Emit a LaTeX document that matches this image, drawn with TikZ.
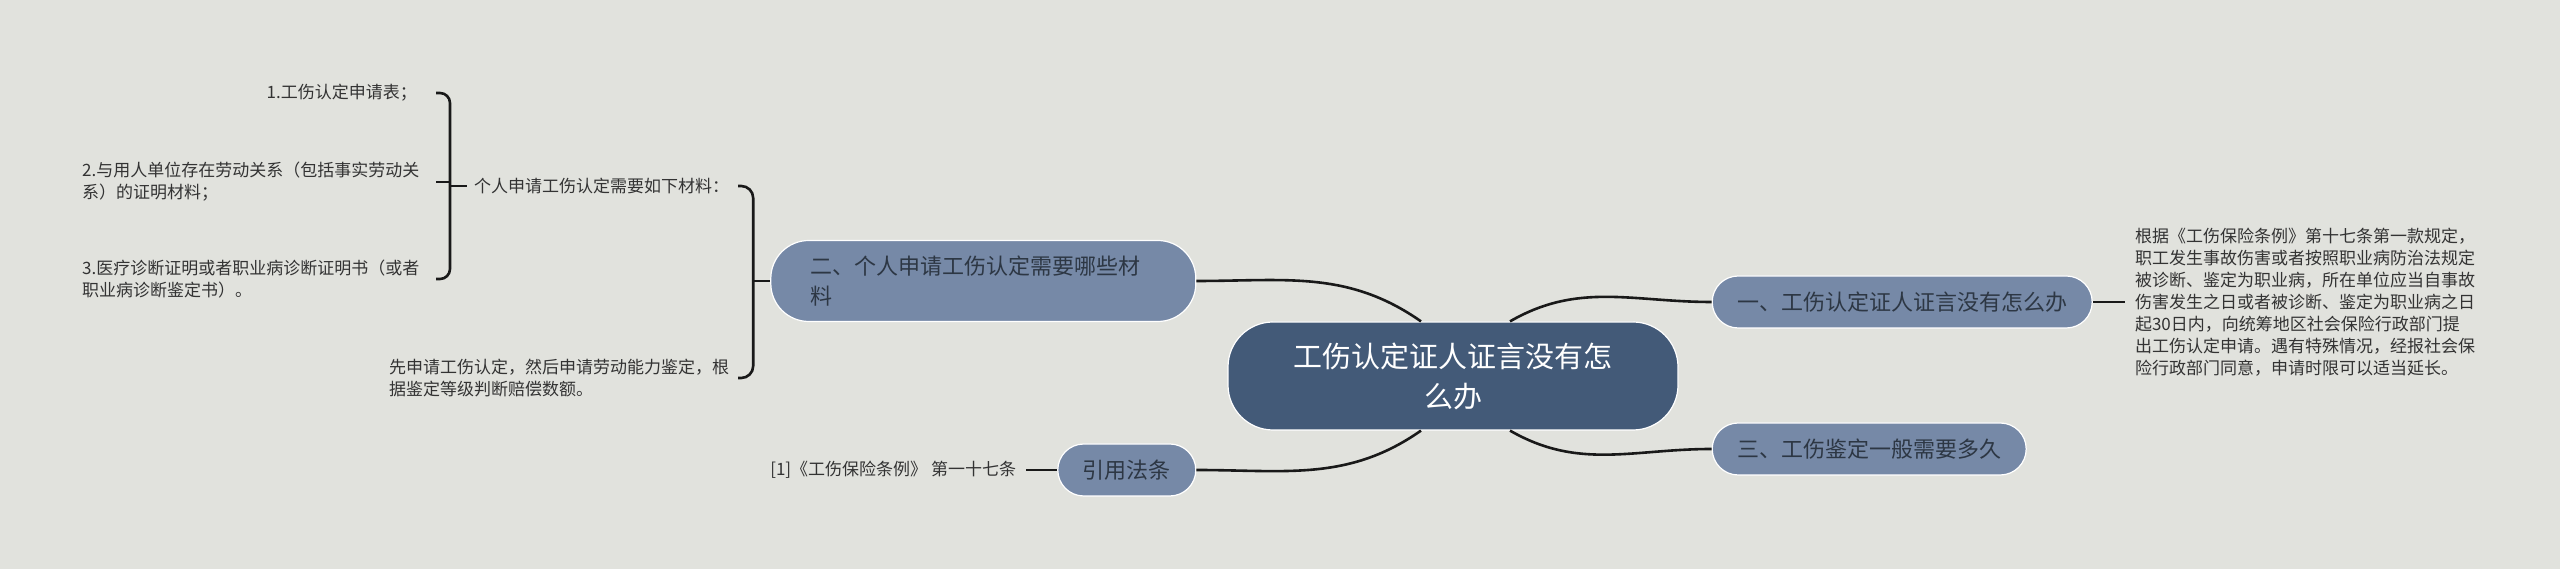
\documentclass[tikz,border=0pt]{standalone}
\usepackage{fontspec}
\setmainfont{Noto Sans CJK SC}
\usetikzlibrary{positioning, calc}
\definecolor{bgcol}{HTML}{E1E2DD}
\definecolor{hubcol}{HTML}{435A78}
\definecolor{branchcol}{HTML}{7689A7}
\definecolor{inkcol}{HTML}{2D3744}
\definecolor{leafcol}{HTML}{333333}

\begin{document}
\begin{tikzpicture}[x=1pt, y=1pt,
    hub/.style={draw=white, line width=1.2pt, fill=hubcol, text=white, rounded corners=45pt, minimum width=450pt, minimum height=108pt, align=center, font=\fontsize{29}{40}\selectfont},
    branch/.style={draw=white, line width=1.2pt, fill=branchcol, text=inkcol, rounded corners=26pt, minimum height=52pt, inner xsep=25pt, font=\fontsize{22}{29.5}\selectfont},
    leaf/.style={inner sep=0pt, text=leafcol, align=left, font=\fontsize{17}{22}\selectfont},
    link/.style={line width=2.6pt, draw=black!90}]
    \useasboundingbox[fill=bgcol] (0,0) rectangle (2560,569);

    \node[hub] (cen) at (1453,193) {工伤认定证人证言没有怎\\么办};
    \node[branch, anchor=west] (one) at ($(cen.east)+(33,74)$) {一、工伤认定证人证言没有怎么办};
    \node[branch, anchor=west] (three) at ($(cen.east)+(33,-73)$) {三、工伤鉴定一般需要多久};
    \node[branch, anchor=east, text width=345pt, align=left, inner xsep=40pt, minimum height=81pt, rounded corners=38pt] (two) at ($(cen.west)+(-31,95)$) {二、个人申请工伤认定需要哪些材\\料};
    \node[branch, anchor=east] (law) at ($(cen.west)+(-31,-94)$) {引用法条};

    \node[leaf, right=42pt of one] (rtext) {根据《工伤保险条例》第十七条第一款规定，\\职工发生事故伤害或者按照职业病防治法规定\\被诊断、鉴定为职业病，所在单位应当自事故\\伤害发生之日或者被诊断、鉴定为职业病之日\\起30日内，向统筹地区社会保险行政部门提\\出工伤认定申请。遇有特殊情况，经报社会保\\险行政部门同意，申请时限可以适当延长。};
    \node[leaf, left=41pt of law] (lawref) {[1]《工伤保险条例》 第一十七条};
    \node[leaf, anchor=west] (need) at (474,383) {个人申请工伤认定需要如下材料：};
    \node[leaf, anchor=west] (first) at (389,191) {先申请工伤认定，然后申请劳动能力鉴定，根\\据鉴定等级判断赔偿数额。};
    \node[leaf, anchor=east] (item1) at (417,476) {1.工伤认定申请表；};
    \node[leaf, anchor=west] (item2) at (82,387) {2.与用人单位存在劳动关系（包括事实劳动关\\系）的证明材料；};
    \node[leaf, anchor=west] (item3) at (82,290) {3.医疗诊断证明或者职业病诊断证明书（或者\\职业病诊断鉴定书）。};

    \draw[link] ([xshift=-32pt]cen.north) to[out=145, in=0] (two.east);
    \draw[link] ([xshift=-32pt]cen.south) to[out=-145, in=0] (law.east);
    \draw[link] ([xshift=57pt]cen.north) to[out=30, in=180] (one.west);
    \draw[link] ([xshift=57pt]cen.south) to[out=-30, in=180] (three.west);
    \draw[link] (one.east) -- ([xshift=-10pt]rtext.west);
    \draw[link] (law.west) -- ([xshift=10pt]lawref.east);

    % brackets
    \coordinate (spine2) at ([xshift=-17pt]two.west);
    \coordinate (tip2) at ([xshift=-15pt]spine2);
    \draw[link, rounded corners=12pt] (need.east -| tip2) -| (spine2) |- (first.east -| tip2);
    \draw[link] (spine2) -- (two.west);
    \coordinate (spine1) at ([xshift=-24pt]need.west);
    \coordinate (tip1) at ([xshift=-14pt]spine1);
    \draw[link, rounded corners=10pt] (item1.east -| tip1) -| (spine1) |- (item3.east -| tip1);
    \draw[link] (item2.east -| tip1) -- (item2.east -| spine1);
    \draw[link] (spine1) -- ([xshift=-7pt]need.west);
\end{tikzpicture}
\end{document}
